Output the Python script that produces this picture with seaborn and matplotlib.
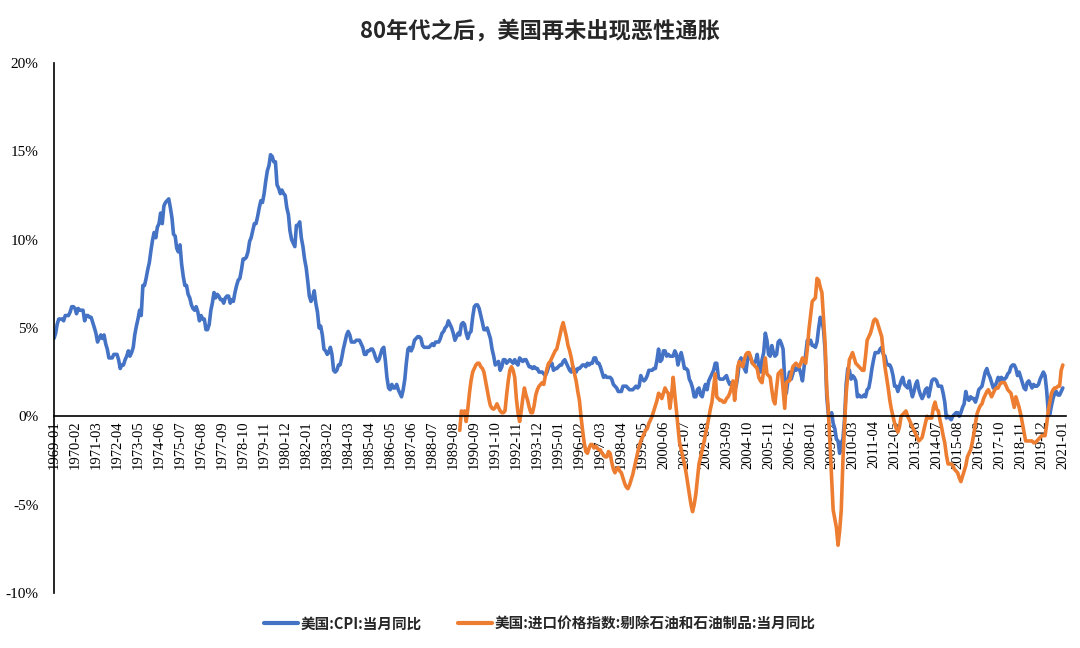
import pandas as pd
import matplotlib.pyplot as plt
import seaborn as sns

# 美国CPI当月同比(%)，1969-01 至 2021-01
cpi = [
    4.4, 4.7, 5.2, 5.5, 5.5, 5.5, 5.4, 5.7, 5.7, 5.7, 5.9, 6.2,   # 1969
    6.2, 6.1, 5.8, 6.1, 6.0, 6.0, 6.0, 5.4, 5.7, 5.7, 5.6, 5.6,   # 1970
    5.3, 5.0, 4.7, 4.2, 4.4, 4.6, 4.4, 4.6, 4.1, 3.8, 3.3, 3.3,   # 1971
    3.3, 3.5, 3.5, 3.5, 3.2, 2.7, 2.9, 2.9, 3.2, 3.4, 3.7, 3.4,   # 1972
    3.6, 3.9, 4.6, 5.1, 5.5, 6.0, 5.7, 7.4, 7.4, 7.8, 8.3, 8.7,   # 1973
    9.4, 10.0, 10.4, 10.1, 10.7, 10.9, 11.5, 10.9, 11.9, 12.1, 12.2, 12.3,   # 1974
    11.8, 11.2, 10.3, 10.2, 9.5, 9.3, 9.7, 8.6, 7.9, 7.4, 7.4, 6.9,   # 1975
    6.7, 6.3, 6.1, 6.0, 6.2, 5.9, 5.4, 5.7, 5.5, 5.5, 4.9, 4.9,   # 1976
    5.2, 6.0, 6.4, 7.0, 6.7, 6.9, 6.8, 6.6, 6.6, 6.4, 6.7, 6.8,   # 1977
    6.8, 6.4, 6.6, 6.5, 7.0, 7.4, 7.7, 7.8, 8.3, 8.9, 8.9, 9.0,   # 1978
    9.3, 9.9, 10.1, 10.5, 10.9, 10.9, 11.3, 11.8, 12.2, 12.1, 12.6, 13.3,   # 1979
    13.9, 14.2, 14.8, 14.7, 14.4, 14.4, 13.1, 12.9, 12.6, 12.8, 12.6, 12.5,   # 1980
    11.8, 11.4, 10.5, 10.0, 9.8, 9.6, 10.8, 10.8, 11.0, 10.1, 9.6, 8.9,   # 1981
    8.4, 7.6, 6.8, 6.5, 6.7, 7.1, 6.4, 5.9, 5.0, 5.1, 4.6, 3.8,   # 1982
    3.7, 3.5, 3.6, 3.9, 3.5, 2.6, 2.5, 2.6, 2.9, 2.9, 3.3, 3.8,   # 1983
    4.2, 4.6, 4.8, 4.6, 4.2, 4.2, 4.2, 4.3, 4.3, 4.3, 4.1, 3.9,   # 1984
    3.5, 3.5, 3.7, 3.7, 3.8, 3.8, 3.6, 3.3, 3.1, 3.2, 3.5, 3.8,   # 1985
    3.9, 3.1, 2.2, 1.6, 1.5, 1.8, 1.6, 1.6, 1.8, 1.5, 1.3, 1.1,   # 1986
    1.5, 2.1, 3.0, 3.8, 3.9, 3.7, 3.9, 4.3, 4.4, 4.5, 4.5, 4.4,   # 1987
    4.0, 3.9, 3.9, 3.9, 3.9, 4.0, 4.1, 4.0, 4.2, 4.2, 4.2, 4.4,   # 1988
    4.7, 4.8, 5.0, 5.1, 5.4, 5.2, 5.0, 4.7, 4.3, 4.5, 4.7, 4.6,   # 1989
    5.2, 5.3, 5.2, 4.7, 4.4, 4.7, 4.8, 5.6, 6.2, 6.3, 6.3, 6.1,   # 1990
    5.7, 5.3, 4.9, 4.9, 5.0, 4.7, 4.4, 3.8, 3.4, 2.9, 3.0, 3.1,   # 1991
    2.6, 2.8, 3.2, 3.2, 3.0, 3.1, 3.2, 3.1, 3.0, 3.2, 3.0, 2.9,   # 1992
    3.3, 3.2, 3.1, 3.2, 3.2, 3.0, 2.8, 2.8, 2.7, 2.8, 2.7, 2.7,   # 1993
    2.5, 2.5, 2.5, 2.4, 2.3, 2.5, 2.8, 2.9, 3.0, 2.6, 2.7, 2.7,   # 1994
    2.8, 2.9, 2.9, 3.1, 3.2, 3.0, 2.8, 2.6, 2.5, 2.8, 2.6, 2.5,   # 1995
    2.7, 2.7, 2.8, 2.9, 2.9, 2.8, 3.0, 2.9, 3.0, 3.0, 3.3, 3.3,   # 1996
    3.0, 3.0, 2.8, 2.5, 2.2, 2.3, 2.2, 2.2, 2.2, 2.1, 1.8, 1.7,   # 1997
    1.6, 1.4, 1.4, 1.4, 1.7, 1.7, 1.7, 1.6, 1.5, 1.5, 1.5, 1.6,   # 1998
    1.7, 1.6, 1.7, 2.3, 2.1, 2.0, 2.1, 2.3, 2.6, 2.6, 2.6, 2.7,   # 1999
    2.7, 3.2, 3.8, 3.1, 3.2, 3.7, 3.7, 3.4, 3.5, 3.4, 3.4, 3.4,   # 2000
    3.7, 3.5, 2.9, 3.3, 3.6, 3.2, 2.7, 2.7, 2.6, 2.1, 1.9, 1.6,   # 2001
    1.1, 1.1, 1.5, 1.6, 1.2, 1.1, 1.5, 1.8, 1.5, 2.0, 2.2, 2.4,   # 2002
    2.6, 3.0, 3.0, 2.2, 2.1, 2.1, 2.1, 2.2, 2.3, 2.0, 1.8, 1.9,   # 2003
    1.9, 1.7, 1.7, 2.3, 3.1, 3.3, 3.0, 2.7, 2.5, 3.2, 3.5, 3.3,   # 2004
    3.0, 3.0, 3.1, 3.5, 2.8, 2.5, 3.2, 3.6, 4.7, 4.3, 3.5, 3.4,   # 2005
    4.0, 3.6, 3.4, 3.5, 4.2, 4.3, 4.1, 3.8, 2.1, 1.3, 2.0, 2.5,   # 2006
    2.1, 2.4, 2.8, 2.6, 2.7, 2.7, 2.4, 2.0, 2.8, 3.5, 4.3, 4.1,   # 2007
    4.3, 4.0, 4.0, 3.9, 4.2, 5.0, 5.6, 5.4, 4.9, 3.7, 1.1, 0.1,   # 2008
    0.0, 0.2, -0.4, -0.7, -1.3, -1.4, -2.1, -1.5, -1.3, -0.2, 1.8, 2.7,   # 2009
    2.6, 2.1, 2.3, 2.2, 2.0, 1.1, 1.2, 1.1, 1.1, 1.2, 1.1, 1.5,   # 2010
    1.6, 2.1, 2.7, 3.2, 3.6, 3.6, 3.6, 3.8, 3.9, 3.5, 3.4, 3.0,   # 2011
    2.9, 2.9, 2.7, 2.3, 1.7, 1.7, 1.4, 1.7, 2.0, 2.2, 1.8, 1.7,   # 2012
    1.6, 2.0, 1.5, 1.1, 1.4, 1.8, 2.0, 1.5, 1.2, 1.0, 1.2, 1.5,   # 2013
    1.6, 1.1, 1.5, 2.0, 2.1, 2.1, 2.0, 1.7, 1.7, 1.7, 1.3, 0.8,   # 2014
    -0.1, 0.0, -0.1, -0.2, 0.0, 0.1, 0.2, 0.2, 0.0, 0.2, 0.5, 0.7,   # 2015
    1.4, 1.0, 0.9, 1.1, 1.0, 1.0, 0.8, 1.1, 1.5, 1.6, 1.7, 2.1,   # 2016
    2.5, 2.7, 2.4, 2.2, 1.9, 1.6, 1.7, 1.9, 2.2, 2.0, 2.2, 2.1,   # 2017
    2.1, 2.2, 2.4, 2.5, 2.8, 2.9, 2.9, 2.7, 2.3, 2.5, 2.2, 1.9,   # 2018
    1.6, 1.5, 1.9, 2.0, 1.8, 1.6, 1.8, 1.7, 1.7, 1.8, 2.1, 2.3,   # 2019
    2.5, 2.3, 1.5, 0.3, 0.1, 0.6, 1.0, 1.3, 1.4, 1.2, 1.2, 1.4,   # 2020
    1.6,   # 2021
]

# 美国进口价格指数(剔除石油和石油制品)当月同比(%)，1989-12 至 2021-01
imp_start = "1989-12"
imp = [
    -0.8,   # 1989-12
    0.3, 0.2, 0.3, -0.3, 0.4, 1.3, 2.0, 2.5, 2.7, 2.9, 3.0, 3.0,   # 1990
    2.8, 2.7, 2.5, 2.0, 1.5, 1.0, 0.6, 0.45, 0.4, 0.5, 0.7, 0.5,   # 1991
    0.3, 0.2, 0.2, 0.3, 1.2, 2.0, 2.6, 2.8, 2.6, 2.2, 1.0, 0.2,   # 1992
    -0.3, 0.3, 1.0, 1.6, 1.2, 0.9, 0.5, 0.2, 0.2, 0.6, 1.2, 1.5,   # 1993
    1.7, 1.8, 1.9, 1.8, 2.3, 2.7, 3.0, 3.1, 3.3, 3.5, 3.7, 3.8,   # 1994
    4.2, 4.6, 5.0, 5.3, 4.9, 4.5, 4.0, 3.7, 3.3, 2.8, 2.4, 2.0,   # 1995
    1.4, 0.9, 0.0, -0.8, -1.5, -2.0, -2.1, -1.8, -1.6, -1.6, -1.8, -1.7,   # 1996
    -1.8, -1.9, -1.9, -2.1, -2.2, -2.3, -2.3, -2.0, -2.1, -2.6, -3.0, -3.2,   # 1997
    -3.0, -2.9, -3.1, -3.2, -3.5, -3.8, -4.0, -4.1, -3.9, -3.6, -3.3, -2.9,   # 1998
    -2.5, -2.1, -1.7, -1.4, -1.2, -1.0, -0.8, -0.7, -0.4, -0.2, 0.0, 0.3,   # 1999
    0.6, 0.9, 1.3, 1.2, 1.0, 1.3, 1.6, 1.4, 1.3, 0.45, 1.2, 2.2,   # 2000
    1.2, 0.3, -0.6, -1.5, -1.9, -2.3, -2.7, -3.2, -3.8, -4.4, -5.0, -5.4,   # 2001
    -5.0, -4.4, -3.6, -2.7, -2.3, -1.9, -1.5, -1.0, -0.6, -0.1, 0.4, 0.8,   # 2002
    1.6, 2.4, 1.1, 1.0, 0.9, 0.9, 0.8, 0.8, 1.0, 1.1, 1.3, 1.6,   # 2003
    2.0, 0.9, 1.8, 2.8, 3.1, 2.9, 2.8, 3.2, 3.5, 3.6, 3.6, 3.3,   # 2004
    3.0, 2.9, 2.8, 2.7, 2.2, 2.0, 1.9, 2.6, 3.3, 2.4, 2.3, 2.2,   # 2005
    1.5, 0.9, 0.7, 1.6, 2.4, 2.5, 2.6, 1.5, 0.45, 1.9, 2.0, 2.0,   # 2006
    2.4, 2.8, 2.9, 3.0, 2.9, 2.8, 3.0, 3.3, 3.1, 3.0, 3.8, 4.9,   # 2007
    5.7, 6.5, 6.6, 6.7, 7.8, 7.7, 7.3, 7.0, 5.5, 4.1, 1.5, 0.3,   # 2008
    -1.6, -3.5, -5.3, -5.8, -6.3, -7.3, -6.5, -5.3, -2.5, -0.5, 1.3, 2.3,   # 2009
    3.2, 3.4, 3.6, 3.3, 3.0, 2.9, 2.8, 2.7, 2.6, 2.6, 3.4, 4.3,   # 2010
    4.5, 4.7, 5.0, 5.4, 5.5, 5.4, 5.1, 4.8, 4.5, 3.6, 2.8, 2.2,   # 2011
    1.6, 0.9, 0.4, 0.0, -0.4, -0.7, -0.9, -0.6, 0.0, 0.1, 0.2, 0.3,   # 2012
    0.0, -0.2, -0.4, -0.6, -0.8, -1.0, -1.2, -1.4, -1.3, -1.2, -0.8, -0.4,   # 2013
    0.0, -0.1, -0.1, -0.1, 0.5, 0.8, 0.4, 0.3, -0.2, -0.6, -1.1, -1.5,   # 2014
    -2.2, -2.7, -2.7, -2.7, -2.8, -3.0, -3.1, -3.2, -3.5, -3.7, -3.4, -3.1,   # 2015
    -2.8, -2.3, -2.1, -1.9, -1.5, -1.0, -0.4, 0.15, 0.4, 0.6, 0.7, 1.0,   # 2016
    1.2, 1.4, 1.5, 1.3, 1.1, 1.3, 1.5, 1.6, 1.6, 1.8, 1.9, 1.9,   # 2017
    1.9, 1.7, 1.5, 1.4, 1.3, 0.9, 0.5, 1.1, 0.8, 0.5, 0.1, -0.4,   # 2018
    -0.9, -1.4, -1.4, -1.4, -1.4, -1.4, -1.5, -1.5, -1.4, -1.3, -1.2, -1.1,   # 2019
    -1.1, -1.1, -0.5, 0.3, 0.8, 1.3, 1.5, 1.6, 1.6, 1.7, 1.7, 2.6,   # 2020
    2.9,   # 2021
]

cpi_name = "美国:CPI:当月同比"
imp_name = "美国:进口价格指数:剔除石油和石油制品:当月同比"

dates = pd.date_range("1969-01-01", periods=len(cpi), freq="MS")
imp_dates = pd.date_range(imp_start + "-01", periods=len(imp), freq="MS")

df = pd.concat([
    pd.DataFrame({"date": dates, "value": cpi, "series": cpi_name}),
    pd.DataFrame({"date": imp_dates, "value": imp, "series": imp_name}),
], ignore_index=True)

sns.set_style("white")
plt.rcParams["font.family"] = ["Liberation Serif", "Noto Sans CJK SC"]
plt.rcParams["axes.unicode_minus"] = False

fig = plt.figure(figsize=(10.8, 6.48), dpi=100)
ax = fig.add_axes([0.05, 0.085, 0.937, 0.818])

sns.lineplot(data=df, x="date", y="value", hue="series",
             palette={cpi_name: "#4472C4", imp_name: "#ED7D31"},
             linewidth=2.6, ax=ax, legend=False)

# 坐标轴（先移动底部轴线，再设置刻度标签）
for s in ["top", "right"]:
    ax.spines[s].set_visible(False)
ax.spines["bottom"].set_position(("data", 0))
for s in ["bottom", "left"]:
    ax.spines[s].set_color("black")
    ax.spines[s].set_linewidth(1.2)

ax.set_ylim(-10, 20)
yt = [-10, -5, 0, 5, 10, 15, 20]
ax.set_yticks(yt)
ax.set_yticklabels([f"{v}%" for v in yt], fontsize=11)
ax.set_xlim(dates[0], dates[-1] + pd.DateOffset(months=2))
ticks = dates[::13]
ax.set_xticks(ticks)
ax.set_xticklabels([d.strftime("%Y-%m") for d in ticks], fontsize=10.5)
ax.set_xlabel("")
ax.set_ylabel("")
ax.tick_params(axis="x", direction="in", length=5, width=1.2, pad=3,
               colors="black", labelrotation=90)
ax.tick_params(axis="y", direction="out", length=5, width=1.2, pad=6, colors="black")
ax.grid(False)

fig.suptitle("80年代之后，美国再未出现恶性通胀", x=0.5, y=0.97,
             fontsize=16, fontweight="bold", family=["Noto Sans CJK SC"])

handles = [plt.Line2D([], [], color="#4472C4", linewidth=3),
           plt.Line2D([], [], color="#ED7D31", linewidth=3)]
fig.legend(handles, [cpi_name, imp_name], loc="center", bbox_to_anchor=(0.5, 0.038),
           ncol=2, frameon=False, handlelength=2.3, columnspacing=2.5, handletextpad=0.2,
           prop={"family": "Noto Sans CJK SC", "size": 10.5, "weight": "bold"})

fig.savefig("out.png", dpi=100)
